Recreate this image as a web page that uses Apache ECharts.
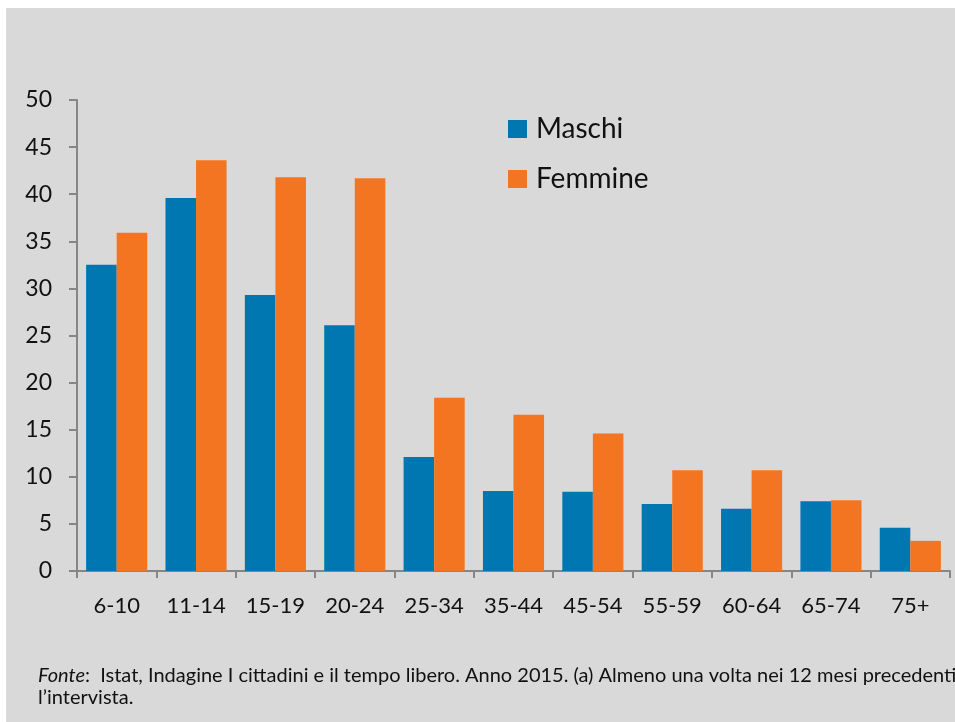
<!DOCTYPE html>
<html><head><meta charset="utf-8">
<script src="https://cdn.jsdelivr.net/npm/echarts@6/dist/echarts.min.js"></script>
<style>html,body{margin:0;padding:0;background:#fff;}#c{width:955px;height:722px;}</style>
</head><body><div id="c"></div>
<script>
const categories = ['6-10','11-14','15-19','20-24','25-34','35-44','45-54','55-59','60-64','65-74','75+'];
const maschi = [32.5, 39.6, 29.3, 26.1, 12.1, 8.5, 8.4, 7.1, 6.6, 7.4, 4.6];
const femmine = [35.9, 43.6, 41.8, 41.7, 18.4, 16.6, 14.6, 10.7, 10.7, 7.5, 3.2];
const yTicks = {min: 0, max: 50, interval: 5};
const fontFam = 'Lato, "Open Sans", sans-serif';
const chart = echarts.init(document.getElementById('c'));
chart.setOption({
  backgroundColor: '#ffffff',
  animation: false,
  graphic: [
    {type: 'rect', z: -10, shape: {x: 6, y: 8, width: 949, height: 714}, style: {fill: '#d9d9d9'}},
    {type: 'text', left: 38, top: 665, style: {
      text: '{i|Fonte}:  Istat, Indagine I cittadini e il tempo libero. Anno 2015. (a) Almeno una volta nei 12 mesi precedenti\nl\u2019intervista.',
      rich: {i: {fontStyle: 'italic', fontSize: 20, fontFamily: fontFam, fill: '#111'}},
      fontSize: 20, fontFamily: fontFam, fill: '#111', lineHeight: 22
    }}
  ],
  grid: {left: 77, right: 5, top: 100, bottom: 151, containLabel: false},
  legend: {
    orient: 'vertical', left: 503, top: 110, itemWidth: 19, itemHeight: 18, itemGap: 22,
    icon: 'rect',
    textStyle: {fontSize: 28, fontFamily: fontFam, color: '#111', lineHeight: 28, padding: [0,0,0,4]},
    data: ['Maschi', 'Femmine']
  },
  xAxis: {
    type: 'category', data: categories,
    axisLine: {lineStyle: {color: '#868686', width: 2}},
    axisTick: {show: true, length: 7, lineStyle: {color: '#868686', width: 2}},
    axisLabel: {fontSize: 22, fontFamily: fontFam, color: '#111', margin: 24}
  },
  yAxis: {
    type: 'value', min: yTicks.min, max: yTicks.max, interval: yTicks.interval,
    axisLine: {show: true, lineStyle: {color: '#868686', width: 2}},
    axisTick: {show: true, length: 8, lineStyle: {color: '#868686', width: 2}},
    splitLine: {show: false},
    axisLabel: {fontSize: 23, fontFamily: fontFam, color: '#111', margin: 25}
  },
  series: [
    {name: 'Maschi', type: 'bar', data: maschi, barGap: '0%', barCategoryGap: '23%', itemStyle: {color: '#0077b0'}},
    {name: 'Femmine', type: 'bar', data: femmine, barGap: '0%', barCategoryGap: '23%', itemStyle: {color: '#f47521'}}
  ]
});
</script></body></html>
